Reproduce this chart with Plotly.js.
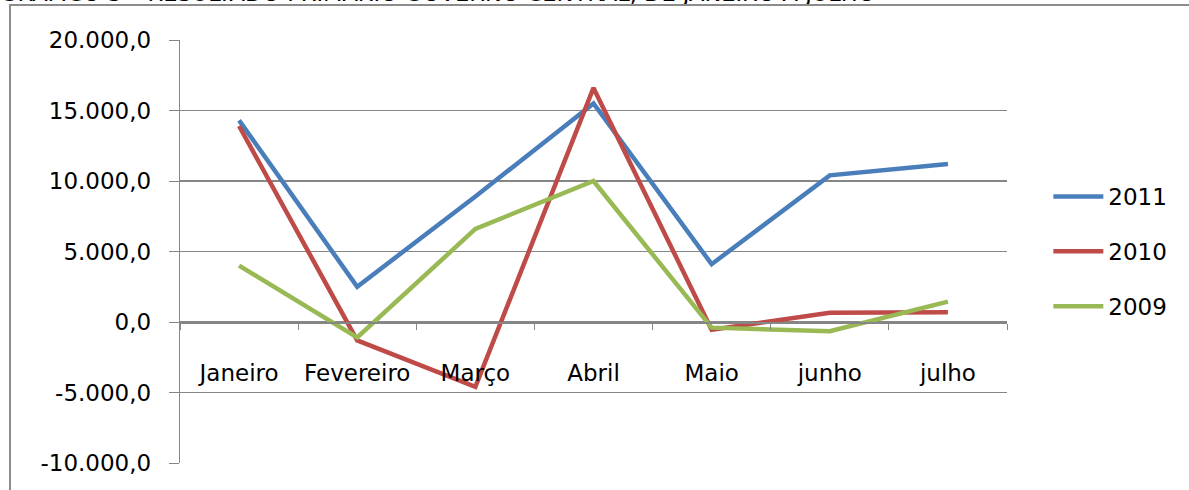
<!DOCTYPE html>
<html>
<head>
<meta charset="utf-8">
<script src="https://cdn.plot.ly/plotly-3.0.1.min.js"></script>
<style>
  html, body { margin: 0; padding: 0; background: #fff; overflow: hidden; }
  #chart { width: 1189px; height: 490px; }
  #frame { position: absolute; left: 9px; top: 4px; width: 1300px; height: 600px;
           border: 2px solid #8c8c8c; pointer-events: none; box-sizing: border-box; }
</style>
</head>
<body>
<div id="chart"></div>
<div id="frame"></div>
<script>
const months = ["Janeiro", "Fevereiro", "Março", "Abril", "Maio", "junho", "julho"];
const series2011 = [14300, 2500, 8900, 15500, 4100, 10400, 11200];
const series2010 = [13900, -1300, -4600, 16600, -550, 650, 700];
const series2009 = [4000, -1100, 6600, 10000, -400, -650, 1450];
const yTickVals = [-10000, -5000, 0, 5000, 10000, 15000, 20000];
const yTickText = ["-10.000,0", "-5.000,0", "0,0", "5.000,0", "10.000,0", "15.000,0", "20.000,0"];
const chartTitle = "GRÁFICO 3 – RESULTADO PRIMÁRIO GOVERNO CENTRAL, DE JANEIRO A JULHO";

const FONT = "DejaVu Sans, sans-serif";

function mk(name, ys, color, grp) {
  return { type: "scatter", mode: "lines", name: name, x: months, y: ys,
           line: { color: color, width: 4.5 }, legendgroup: grp, hoverinfo: "skip" };
}

const data = [
  mk("2011", series2011, "#4A7EBB", "a"),
  mk("2010", series2010, "#BE4B48", "b"),
  mk("2009", series2009, "#98B954", "c")
];

const layout = {
  width: 1189, height: 490,
  margin: { l: 180, r: 182, t: 40, b: 27, pad: 0 },
  paper_bgcolor: "#ffffff", plot_bgcolor: "#ffffff",
  separators: ",.",
  font: { family: FONT, size: 23, color: "#000" },
  title: { text: chartTitle, x: 0.0, xref: "container", xanchor: "left",
           y: 0.997, yref: "container", yanchor: "bottom",
           font: { family: FONT, size: 22.5, color: "#000" } },
  showlegend: true,
  legend: { x: 1.05, xanchor: "left", y: 0.681, yanchor: "top",
            traceorder: "grouped", tracegroupgap: 22, itemwidth: 50,
            font: { family: FONT, size: 23, color: "#000" },
            bgcolor: "rgba(0,0,0,0)" },
  xaxis: {
    type: "category", anchor: "free", position: 0.33333,
    range: [-0.5, 6.5],
    showgrid: false, zeroline: false,
    showline: true, linecolor: "#868686", linewidth: 1.5,
    ticks: "outside", tickson: "boundaries", ticklen: 6, tickcolor: "#868686",
    ticklabelstandoff: 30,
    tickfont: { family: FONT, size: 23, color: "#000" },
    fixedrange: true
  },
  yaxis: {
    range: [-10000, 20000], tickvals: yTickVals, ticktext: yTickText,
    showgrid: true, gridcolor: "#868686", gridwidth: 1.2,
    zeroline: false,
    showline: true, linecolor: "#868686", linewidth: 1.2,
    ticks: "outside", ticklen: 10, tickcolor: "#868686",
    ticklabelstandoff: 13,
    tickfont: { family: FONT, size: 23, color: "#000" },
    fixedrange: true
  }
};

Plotly.newPlot("chart", data, layout, { displayModeBar: false, staticPlot: true });
</script>
</body>
</html>
